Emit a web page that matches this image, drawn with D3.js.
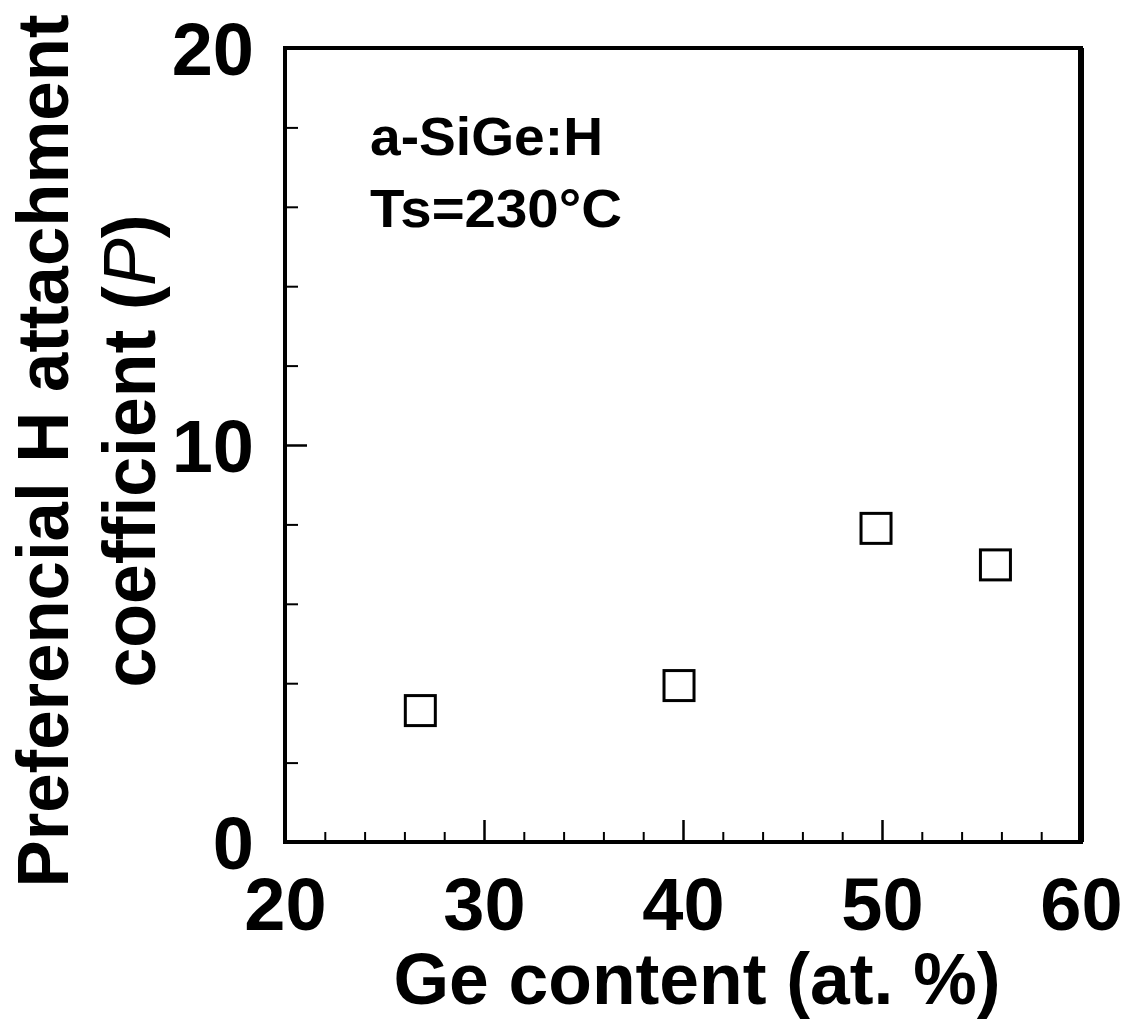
<!DOCTYPE html>
<html>
<head>
<meta charset="utf-8">
<script src="https://cdn.jsdelivr.net/npm/d3@7"></script>
<style>
  html, body { margin: 0; padding: 0; background: #fff; }
  svg { display: block; }
  text { font-family: "Liberation Sans", Arial, Helvetica, sans-serif; font-weight: bold; fill: #000; }
</style>
</head>
<body>
<script>
// ---- data ----
const geContent = [26.8, 39.8, 49.7, 55.7];
const pCoeff = [3.31, 3.94, 7.90, 6.98];
const xTickLabels = [20, 30, 40, 50, 60];
const xMajorInner = [30, 40, 50];
const xMinor = [22, 24, 26, 28, 32, 34, 36, 38, 42, 44, 46, 48, 52, 54, 56, 58];
const yTickLabels = [0, 10, 20];
const yMajorInner = [10];
const yMinor = [2, 4, 6, 8, 12, 14, 16, 18];

const W = 1136, H = 1025;
const svg = d3.select("body").append("svg").attr("width", W).attr("height", H);

const x = d3.scaleLinear().domain([20, 60]).range([285, 1081]);
const y = d3.scaleLinear().domain([0, 20]).range([842, 48]);

// minor/major inward ticks, x
svg.append("g").attr("transform", `translate(0,${y(0)})`)
  .call(d3.axisBottom(x).tickValues(xMinor).tickSize(-10).tickFormat(""))
  .call(g => g.select(".domain").remove())
  .selectAll("line").attr("stroke", "#000").attr("stroke-width", 2);
svg.append("g").attr("transform", `translate(0,${y(0)})`)
  .call(d3.axisBottom(x).tickValues(xMajorInner).tickSize(-22).tickFormat(""))
  .call(g => g.select(".domain").remove())
  .selectAll("line").attr("stroke", "#000").attr("stroke-width", 2.5);
// x labels
const gxl = svg.append("g").attr("transform", `translate(0,${y(0)})`)
  .call(d3.axisBottom(x).tickValues(xTickLabels).tickSize(0).tickPadding(0).tickFormat(d3.format("d")));
gxl.select(".domain").remove();
gxl.selectAll("text").attr("font-size", 74).attr("y", 88).attr("dy", 0)
  .style("font-family", '"Liberation Sans", Arial, sans-serif').style("font-weight", "bold");

// y ticks inward
svg.append("g").attr("transform", `translate(${x(20)},0)`)
  .call(d3.axisLeft(y).tickValues(yMinor).tickSize(-13).tickFormat(""))
  .call(g => g.select(".domain").remove())
  .selectAll("line").attr("stroke", "#000").attr("stroke-width", 2);
svg.append("g").attr("transform", `translate(${x(20)},0)`)
  .call(d3.axisLeft(y).tickValues(yMajorInner).tickSize(-22).tickFormat(""))
  .call(g => g.select(".domain").remove())
  .selectAll("line").attr("stroke", "#000").attr("stroke-width", 2.5);
const gyl = svg.append("g").attr("transform", `translate(${x(20)},0)`)
  .call(d3.axisLeft(y).tickValues(yTickLabels).tickSize(0).tickPadding(31).tickFormat(d3.format("d")));
gyl.select(".domain").remove();
gyl.selectAll("text").attr("font-size", 74).attr("dy", "0.36em")
  .style("font-family", '"Liberation Sans", Arial, sans-serif').style("font-weight", "bold");

// frame
svg.append("rect")
  .attr("x", x(20)).attr("y", y(20))
  .attr("width", x(60) - x(20)).attr("height", y(0) - y(20))
  .attr("fill", "none").attr("stroke", "#000").attr("stroke-width", 4);
svg.append("line").attr("x1", x(60)).attr("x2", x(60)).attr("y1", y(20)).attr("y2", y(0))
  .attr("stroke", "#000").attr("stroke-width", 6);

// data markers (open squares)
const pts = geContent.map((g, i) => ({ g, p: pCoeff[i] }));
const s = 30;
svg.append("g").selectAll("rect").data(pts).join("rect")
  .attr("x", d => x(d.g) - s / 2).attr("y", d => y(d.p) - s / 2)
  .attr("width", s).attr("height", s)
  .attr("fill", "#fff").attr("stroke", "#000").attr("stroke-width", 3);

// annotations
svg.append("text").attr("x", 370).attr("y", 155).attr("font-size", 54)
  .attr("textLength", 233).attr("lengthAdjust", "spacingAndGlyphs").text("a-SiGe:H");
svg.append("text").attr("x", 370).attr("y", 227).attr("font-size", 54)
  .attr("textLength", 252).attr("lengthAdjust", "spacingAndGlyphs").text("Ts=230°C");

// x axis title
svg.append("text").attr("x", 697).attr("y", 1004).attr("text-anchor", "middle")
  .attr("font-size", 72).attr("textLength", 607).attr("lengthAdjust", "spacingAndGlyphs")
  .text("Ge content (at. %)");

// y axis title (two lines)
const yt = svg.append("g").attr("transform", "translate(0,451) rotate(-90)");
yt.append("text").attr("x", 0).attr("y", 68).attr("text-anchor", "middle")
  .attr("font-size", 72).attr("textLength", 873).attr("lengthAdjust", "spacingAndGlyphs")
  .text("Preferencial H attachment");
const t2 = yt.append("text").attr("x", 0).attr("y", 155).attr("text-anchor", "middle")
  .attr("font-size", 74).attr("textLength", 473).attr("lengthAdjust", "spacingAndGlyphs");
t2.append("tspan").text("coefficient (");
t2.append("tspan").style("font-style", "italic").style("font-weight", "normal").text("P");
t2.append("tspan").text(")");
</script>
</body>
</html>
